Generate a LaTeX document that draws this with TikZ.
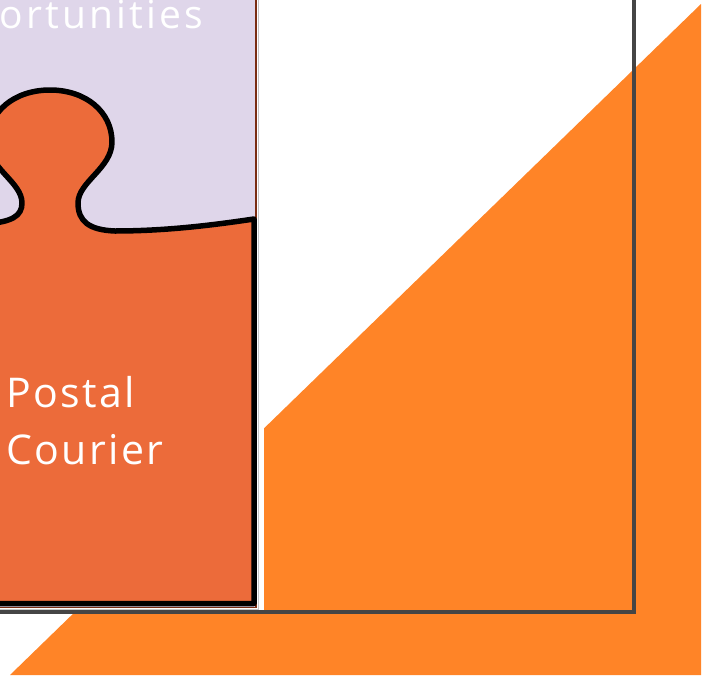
\documentclass[tikz,border=0pt]{standalone}
\usepackage{fontspec}
\setmainfont{Open Sans}
\newfontfamily\piecefont[LetterSpace=6]{Open Sans}
\newfontfamily\headfont[LetterSpace=8]{Open Sans}
\usepackage{tikz}
\usetikzlibrary{positioning}
\definecolor{slideorange}{HTML}{FF8427}
\definecolor{pieceorange}{HTML}{EC6B3A}
\definecolor{piecelilac}{HTML}{DFD6EA}
\definecolor{framegray}{HTML}{454545}
\definecolor{piecebrown}{HTML}{7A2D12}
\tikzset{
  slidewedge/.style={fill=slideorange,draw=none},
  photoframe/.style={draw=framegray,line width=3.5pt},
  lilacpiece/.style={fill=piecelilac,draw=piecebrown,line width=1.2pt},
  orangepiece/.style={fill=pieceorange,draw=black,line width=5.5pt,line join=round},
  piecelabel/.style={text=white,inner sep=0pt,anchor=base west,
    font=\piecefont\fontsize{41}{49}\selectfont},
  headlabel/.style={text=white,inner sep=0pt,anchor=base east,
    font=\headfont\fontsize{39}{46}\selectfont}
}

\begin{document}
\begin{tikzpicture}[x=1pt,y=-1pt]
  \useasboundingbox (0,0) rectangle (705,678);
  \clip (0,0) rectangle (705,678);
  % orange wedge behind everything
  \fill[slidewedge] (10,675) -- (701,4) -- (701,675) -- cycle;
  % picture with the two puzzle pieces
  \fill[white] (-10,-10) rectangle (264,611);
  \draw[gray!45,line width=1.2pt] (-10,-10) rectangle (258.5,609.5);
  \filldraw[lilacpiece] (-10,-10) rectangle (256,607.5);
  \filldraw[orangepiece] (-15,224)
    .. controls (12,222) and (22,216) .. (22,203)
    .. controls (22,182) and (-12,168) .. (-12,142)
    .. controls (-12,112) and (14,90) .. (50,90)
    .. controls (86,90) and (112,112) .. (112,142)
    .. controls (112,168) and (78,182) .. (78,203)
    .. controls (78,222) and (90,230) .. (115,231)
    .. controls (170,231) and (220,224) .. (254,219)
    -- (254,603.5) -- (-15,603.5) -- cycle;
  \node[headlabel] (oppo) at (203,28) {Opportunities};
  \node[piecelabel] (postal) at (6,407) {Postal};
  \node[piecelabel] (courier) at ([yshift=-57pt]postal.base west) {Courier};
  % outer frame
  \draw[photoframe] (-10,-10) rectangle (634,612);
\end{tikzpicture}
\end{document}
